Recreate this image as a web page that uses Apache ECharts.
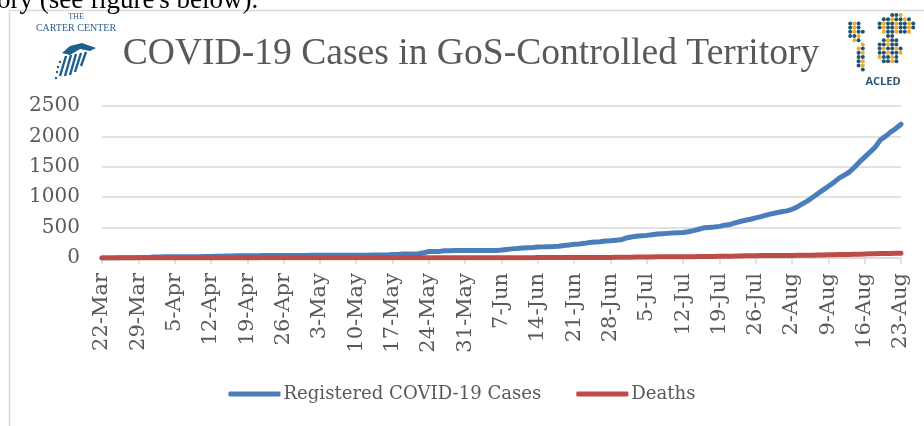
<!DOCTYPE html>
<html>
<head>
<meta charset="utf-8">
<script src="https://cdn.jsdelivr.net/npm/echarts@6/dist/echarts.min.js"></script>
<style>
  html, body { margin: 0; padding: 0; background: #fff; }
  #chart { width: 924px; height: 426px; }
</style>
</head>
<body>
<div id="chart"></div>
<script>
// daily series, 22-Mar .. 23-Aug (one row per week)
const cases = [
  1, 1, 1, 5, 5, 5, 5,
  9, 10, 10, 16, 16, 19, 19,
  19, 19, 19, 19, 19, 19, 25,
  25, 29, 29, 33, 33, 38, 38,
  39, 39, 39, 42, 42, 42, 42,
  43, 43, 43, 43, 43, 44, 44,
  44, 44, 45, 45, 45, 47, 47,
  47, 47, 47, 48, 50, 51, 51,
  58, 58, 64, 64, 64, 70, 86,
  106, 106, 106, 121, 121, 122, 122,
  122, 123, 124, 124, 125, 125, 125,
  130, 141, 150, 156, 164, 170, 174,
  180, 183, 186, 189, 194, 204, 214,
  225, 231, 241, 256, 263, 269, 279,
  285, 293, 300, 328, 346, 358, 365,
  372, 384, 394, 400, 405, 411, 415,
  420, 431, 450, 473, 496, 503, 510,
  520, 540, 550, 576, 600, 620, 638,
  660, 680, 705, 725, 745, 760, 775,
  800, 840, 890, 940, 1000, 1060, 1120,
  1180, 1240, 1310, 1360, 1410, 1490, 1580,
  1660, 1740, 1820, 1940, 2000, 2070, 2130,
  2200
];
const deaths = [
  0, 0, 0, 0, 0, 0, 0,
  1, 1, 1, 2, 2, 2, 2,
  2, 2, 2, 2, 2, 2, 2,
  2, 2, 2, 2, 2, 2, 2,
  2, 2, 2, 3, 3, 3, 3,
  3, 3, 3, 3, 3, 3, 3,
  3, 3, 3, 3, 3, 3, 3,
  3, 3, 3, 3, 3, 3, 3,
  3, 3, 3, 3, 3, 4, 4,
  4, 4, 4, 4, 4, 4, 4,
  4, 4, 4, 4, 4, 4, 4,
  6, 6, 6, 6, 6, 6, 6,
  7, 7, 7, 7, 7, 7, 7,
  7, 7, 8, 8, 9, 9, 9,
  9, 11, 11, 14, 14, 16, 16,
  16, 16, 19, 19, 19, 19, 19,
  20, 21, 21, 23, 25, 25, 26,
  27, 28, 30, 31, 34, 36, 38,
  38, 40, 40, 43, 43, 43, 43,
  43, 44, 44, 45, 47, 49, 51,
  52, 53, 56, 57, 58, 60, 62,
  66, 68, 70, 72, 74, 76, 78,
  80
];
const seriesNames = ["Registered COVID-19 Cases", "Deaths"];
const yTicks = [0, 500, 1000, 1500, 2000, 2500];

// category labels: one per day starting 22-Mar
const months = ["Jan", "Feb", "Mar", "Apr", "May", "Jun", "Jul", "Aug", "Sep"];
const categories = [];
for (let i = 0; i < cases.length; i++) {
  const d = new Date(2020, 2, 22 + i);
  categories.push(d.getDate() + "-" + months[d.getMonth()]);
}

const serif = "'DejaVu Serif', serif";
const grey = "#595959";
const logoBlue = "#1d5f8f";

// ACLED logo dots (decoration)
const acledDots = [];
(function () {
  const blobs = [
    { cx: 855, cy: 31, rx: 8, ry: 11 },
    { cx: 862, cy: 57, rx: 5, ry: 13 },
    { cx: 896, cy: 25, rx: 19, ry: 11 },
    { cx: 889, cy: 50, rx: 12, ry: 15 }
  ];
  let n = 0;
  for (let y = 15; y <= 72; y += 4.2) {
    for (let x = 846; x <= 916; x += 4.2) {
      const inside = blobs.some(b => ((x - b.cx) / b.rx) ** 2 + ((y - b.cy) / b.ry) ** 2 <= 1);
      if (!inside) continue;
      n++;
      acledDots.push({
        type: "circle",
        shape: { cx: x, cy: y, r: 2 },
        style: { fill: n % 3 === 0 ? "#f4a82a" : "#1f5470" },
        silent: true
      });
    }
  }
})();

// Carter Center eagle (decoration)
const eagle = [
  {
    type: "polygon",
    shape: { points: [[62, 53], [70, 46], [82, 43], [96, 48], [90, 51], [80, 49], [70, 55]] },
    style: { fill: logoBlue }, silent: true
  }
];
[[66, 56, 60, 76], [71, 55, 65, 76], [76, 54, 70, 75], [81, 53, 75, 72], [86, 52, 81, 66]].forEach(s => {
  eagle.push({
    type: "line",
    shape: { x1: s[0], y1: s[1], x2: s[2], y2: s[3] },
    style: { stroke: logoBlue, lineWidth: 2.4 }, silent: true
  });
});
[[60, 62], [58, 67], [57, 72], [56, 78]].forEach(p => {
  eagle.push({ type: "circle", shape: { cx: p[0], cy: p[1], r: 1.2 }, style: { fill: logoBlue }, silent: true });
});

const chart = echarts.init(document.getElementById("chart"), null, { renderer: "canvas" });

const option = {
  backgroundColor: "#fff",
  animation: false,
  grid: { left: 102, right: 23, top: 106, bottom: 168, containLabel: false },
  graphic: [
    {
      type: "rect",
      shape: { x: 9.5, y: 10.5, width: 940, height: 440 },
      style: { fill: "none", stroke: "#d9d9d9", lineWidth: 1.5 },
      silent: true
    },
    {
      type: "text",
      style: { text: "ory (see figure's below).", x: -3, y: 1, font: "27px 'Liberation Serif', serif", fill: "#000", verticalAlign: "middle" }
    },
    {
      type: "text",
      style: { text: "COVID-19 Cases in GoS-Controlled Territory", x: 471, y: 54, font: "37.6px 'Liberation Serif', serif", fill: grey, align: "center", verticalAlign: "middle" }
    },
    {
      type: "text",
      style: { text: "THE", x: 76, y: 17, font: "8px 'Liberation Serif', serif", fill: "#2a5d8c", align: "center", verticalAlign: "middle" }
    },
    {
      type: "text",
      style: { text: "CARTER CENTER", x: 76, y: 28, font: "10px 'Liberation Serif', serif", fill: "#2a5d8c", align: "center", verticalAlign: "middle" }
    },
    ...eagle,
    ...acledDots,
    {
      type: "text",
      style: { text: "ACLED", x: 883, y: 82, font: "bold 11px 'Open Sans', sans-serif", fill: "#2a5674", align: "center", verticalAlign: "middle" }
    }
  ],
  legend: {
    data: seriesNames,
    top: 380,
    left: "center",
    icon: "roundRect",
    itemWidth: 52,
    itemHeight: 5,
    itemGap: 35,
    textStyle: { fontFamily: serif, fontSize: 18.1, color: grey, padding: [0, 0, 0, -2] }
  },
  xAxis: {
    type: "category",
    data: categories,
    boundaryGap: false,
    axisLine: { lineStyle: { color: "#d9d9d9", width: 1.5 } },
    axisTick: { show: true, interval: 6, length: 6, lineStyle: { color: "#d9d9d9", width: 1.5 } },
    axisLabel: {
      interval: 6,
      rotate: 90,
      margin: 15,
      fontFamily: serif,
      fontSize: 21,
      color: grey
    }
  },
  yAxis: {
    type: "value",
    min: yTicks[0],
    max: yTicks[yTicks.length - 1],
    interval: 500,
    axisLine: { show: false },
    axisTick: { show: false },
    axisLabel: { margin: 22, fontFamily: serif, fontSize: 20, color: grey, formatter: v => String(v) },
    splitLine: { lineStyle: { color: "#d9d9d9", width: 1.5 } }
  },
  series: [
    {
      name: seriesNames[0],
      type: "line",
      data: cases,
      showSymbol: false,
      symbol: "none",
      itemStyle: { color: "#4a7ebb" },
      lineStyle: { color: "#4a7ebb", width: 5, cap: "round", join: "round" }
    },
    {
      name: seriesNames[1],
      type: "line",
      data: deaths,
      showSymbol: false,
      symbol: "none",
      itemStyle: { color: "#be4b48" },
      lineStyle: { color: "#be4b48", width: 5, cap: "round", join: "round" }
    }
  ]
};

chart.setOption(option);
</script>
</body>
</html>
